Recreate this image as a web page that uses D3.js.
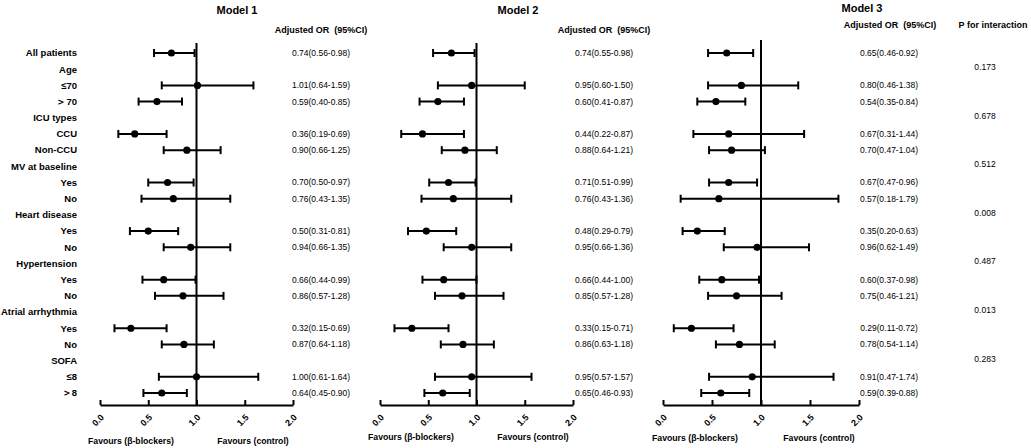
<!DOCTYPE html>
<html>
<head>
<meta charset="utf-8">
<script src="https://cdn.jsdelivr.net/npm/d3@7"></script>
<style>
  body { margin: 0; background: #fff; }
  text { font-family: "Liberation Sans", Arial, Helvetica, sans-serif; fill: #000; }
</style>
</head>
<body>
<svg id="chart" width="1031" height="448"></svg>
<script>
'use strict';

/* Data */

var rowLabels = ["All patients", "Age", "≤70", "＞70", "ICU types", "CCU", "Non-CCU",
  "MV at baseline", "Yes", "No", "Heart disease", "Yes", "No", "Hypertension", "Yes", "No",
  "Atrial arrhythmia", "Yes", "No", "SOFA", "≤8", "＞8"];

// null = header row (no estimate)
var model1OR  = [0.74, null, 1.01, 0.59, null, 0.36, 0.90, null, 0.70, 0.76, null, 0.50, 0.94, null, 0.66, 0.86, null, 0.32, 0.87, null, 1.00, 0.64];
var model1Low = [0.56, null, 0.64, 0.40, null, 0.19, 0.66, null, 0.50, 0.43, null, 0.31, 0.66, null, 0.44, 0.57, null, 0.15, 0.64, null, 0.61, 0.45];
var model1Up  = [0.98, null, 1.59, 0.85, null, 0.69, 1.25, null, 0.97, 1.35, null, 0.81, 1.35, null, 0.99, 1.28, null, 0.69, 1.18, null, 1.64, 0.90];

var model2OR  = [0.74, null, 0.95, 0.60, null, 0.44, 0.88, null, 0.71, 0.76, null, 0.48, 0.95, null, 0.66, 0.85, null, 0.33, 0.86, null, 0.95, 0.65];
var model2Low = [0.55, null, 0.60, 0.41, null, 0.22, 0.64, null, 0.51, 0.43, null, 0.29, 0.66, null, 0.44, 0.57, null, 0.15, 0.63, null, 0.57, 0.46];
var model2Up  = [0.98, null, 1.50, 0.87, null, 0.87, 1.21, null, 0.99, 1.36, null, 0.79, 1.36, null, 1.00, 1.28, null, 0.71, 1.18, null, 1.57, 0.93];

var model3OR  = [0.65, null, 0.80, 0.54, null, 0.67, 0.70, null, 0.67, 0.57, null, 0.35, 0.96, null, 0.60, 0.75, null, 0.29, 0.78, null, 0.91, 0.59];
var model3Low = [0.46, null, 0.46, 0.35, null, 0.31, 0.47, null, 0.47, 0.18, null, 0.20, 0.62, null, 0.37, 0.46, null, 0.11, 0.54, null, 0.47, 0.39];
var model3Up  = [0.92, null, 1.38, 0.84, null, 1.44, 1.04, null, 0.96, 1.79, null, 0.63, 1.49, null, 0.98, 1.21, null, 0.72, 1.14, null, 1.74, 0.88];

var pRows   = [1, 4, 7, 10, 13, 16, 19];
var pValues = ["0.173", "0.678", "0.512", "0.008", "0.487", "0.013", "0.283"];

var xTicks = [0, 0.5, 1, 1.5, 2];

/* Layout */

var svg = d3.select('#chart'),
    axisY = 405;

var y = d3.scaleLinear()
  .domain([0, rowLabels.length - 1])
  .range([53, 393]);

var panels = [
  { title: "Model 1", or: model1OR, low: model1Low, up: model1Up,
    x0: 100, x1: 293, titleX: 237, titleY: 14, headX: 321, headY: 33, textX: 321, lineTop: 43,
    favL: 131, favR: 253, favY: 444 },
  { title: "Model 2", or: model2OR, low: model2Low, up: model2Up,
    x0: 380, x1: 573, titleX: 518, titleY: 14, headX: 604, headY: 33, textX: 604, lineTop: 43,
    favL: 411, favR: 533, favY: 440 },
  { title: "Model 3", or: model3OR, low: model3Low, up: model3Up,
    x0: 663, x1: 859, titleX: 862, titleY: 12, headX: 890, headY: 28, textX: 889, lineTop: 40,
    favL: 695, favR: 819, favY: 441 }
];

/* Row labels */
svg.append("g")
  .selectAll("text")
  .data(rowLabels)
  .enter().append("text")
  .attr("x", 77)
  .attr("y", function (d, i) { return y(i); })
  .attr("dy", "0.35em")
  .attr("text-anchor", "end")
  .style("font-size", "9.5px")
  .style("font-weight", "bold")
  .text(function (d) { return d; });

panels.forEach(function (p) {

  var x = d3.scaleLinear().domain([0, 2]).range([p.x0, p.x1]),
      g = svg.append("g");

  var rows = p.or.map(function (d, i) {
    return { i: i, or: d, low: p.low[i], up: p.up[i] };
  }).filter(function (d) { return d.or !== null; });

  // title and column header
  g.append("text")
    .attr("x", p.titleX).attr("y", p.titleY)
    .attr("text-anchor", "middle")
    .style("font-size", "11px").style("font-weight", "bold")
    .text(p.title);

  g.append("text")
    .attr("x", p.headX).attr("y", p.headY)
    .attr("text-anchor", "middle")
    .style("font-size", "9px").style("font-weight", "bold")
    .style("white-space", "pre")
    .text("Adjusted OR  (95%CI)");

  // axis
  var axis = d3.axisBottom(x)
    .tickValues(xTicks)
    .tickSizeInner(-5)
    .tickSizeOuter(0)
    .tickFormat(d3.format(".1f"));

  var ax = g.append("g")
    .attr("transform", "translate(0," + axisY + ")")
    .call(axis);

  ax.select(".domain").attr("stroke", "#000").attr("stroke-width", 2);
  ax.selectAll(".tick line").attr("stroke", "#000").attr("stroke-width", 2);
  ax.selectAll(".tick text")
    .attr("y", 0).attr("dy", 0)
    .attr("text-anchor", "end")
    .attr("transform", "translate(4,13) rotate(-45)")
    .style("font-family", "'Liberation Sans', Arial, sans-serif")
    .style("font-size", "9px").style("font-weight", "bold")
    .attr("fill", "#000");

  // reference line at OR = 1
  g.append("line")
    .attr("x1", x(1)).attr("x2", x(1))
    .attr("y1", p.lineTop).attr("y2", axisY)
    .attr("stroke", "#000").attr("stroke-width", 2);

  // CI bars
  var bar = g.selectAll(".ci")
    .data(rows)
    .enter().append("g")
    .attr("class", "ci")
    .attr("transform", function (d) { return "translate(0," + y(d.i) + ")"; });

  bar.append("line")
    .attr("x1", function (d) { return x(d.low); })
    .attr("x2", function (d) { return x(d.up); })
    .attr("stroke", "#000").attr("stroke-width", 2);

  bar.selectAll(".cap")
    .data(function (d) { return [d.low, d.up]; })
    .enter().append("line")
    .attr("x1", function (v) { return x(v); })
    .attr("x2", function (v) { return x(v); })
    .attr("y1", -4).attr("y2", 4)
    .attr("stroke", "#000").attr("stroke-width", 2);

  bar.append("circle")
    .attr("cx", function (d) { return x(d.or); })
    .attr("r", 3.6)
    .attr("fill", "#000");

  // OR (CI) text
  g.selectAll(".val")
    .data(rows)
    .enter().append("text")
    .attr("x", p.textX)
    .attr("y", function (d) { return y(d.i); })
    .attr("dy", "0.35em")
    .attr("text-anchor", "middle")
    .style("font-size", "8.5px")
    .text(function (d) {
      return d.or.toFixed(2) + "(" + d.low.toFixed(2) + "-" + d.up.toFixed(2) + ")";
    });

  // favours labels
  g.append("text")
    .attr("x", p.favL).attr("y", p.favY)
    .attr("text-anchor", "middle")
    .style("font-size", "8.7px").style("font-weight", "bold")
    .text("Favours (β-blockers)");

  g.append("text")
    .attr("x", p.favR).attr("y", p.favY)
    .attr("text-anchor", "middle")
    .style("font-size", "8.7px").style("font-weight", "bold")
    .text("Favours (control)");
});

/* P for interaction */
svg.append("text")
  .attr("x", 993).attr("y", 28)
  .attr("text-anchor", "middle")
  .style("font-size", "9px").style("font-weight", "bold")
  .text("P for interaction");

svg.append("g")
  .selectAll("text")
  .data(pValues)
  .enter().append("text")
  .attr("x", 985)
  .attr("y", function (d, i) { return y(pRows[i]) - 2; })
  .attr("dy", "0.35em")
  .attr("text-anchor", "middle")
  .style("font-size", "8.5px")
  .text(function (d) { return d; });
</script>
</body>
</html>
